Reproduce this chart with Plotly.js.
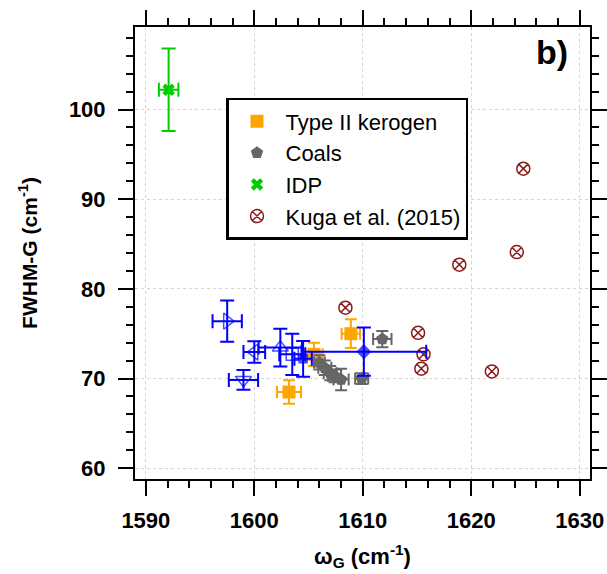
<!DOCTYPE html>
<html>
<head>
<meta charset="utf-8">
<script src="https://cdn.plot.ly/plotly-3.0.1.min.js"></script>
<style>html,body{margin:0;padding:0;background:#fff;}#chart{width:607px;height:574px;}</style>
</head>
<body>
<div id="chart"></div>
<script>
// ---- data ----
const keroX  = [1608.9, 1603.2, 1605.5];
const keroY  = [75.0, 68.5, 72.7];
const keroEX = [0.85, 1.1, 0.8];
const keroEY = [1.6, 1.3, 1.3];

const coalX  = [1611.8, 1609.9, 1608.0, 1607.0, 1606.5, 1606.0, 1607.4];
const coalY  = [74.4, 70.0, 69.9, 70.6, 71.2, 71.8, 70.3];
const coalEX = [0.85, 0.6, 0.7, 0.6, 0.6, 0.5, 0.6];
const coalEY = [0.9, 0.6, 1.2, 0.8, 0.8, 0.8, 0.7];

const idpX  = [1592.1];
const idpY  = [102.2];
const idpEX = [0.9];
const idpEY = [4.6];

const kugaX = [1608.4, 1615.1, 1615.6, 1615.4, 1618.9, 1621.9, 1624.2, 1624.8];
const kugaY = [77.9, 75.1, 72.7, 71.1, 82.7, 70.8, 84.1, 93.4];

const blueX  = [1597.5, 1600.0, 1599.0, 1602.4, 1603.5, 1604.5, 1610.1];
const blueY  = [76.4, 72.95, 69.85, 73.45, 72.7, 72.2, 73.0];
const blueEX = [1.35, 1.0, 1.35, 2.0, 1.2, 0.8, 5.75];
const blueEY = [2.3, 1.2, 1.1, 2.1, 2.3, 2.0, 2.7];

const seriesNames = ['Type II kerogen', 'Coals', 'IDP', 'Kuga et al. (2015)'];
const xTitle = 'ω<sub>G</sub> (cm<sup>-1</sup>)';
const yTitle = 'FWHM-G (cm<sup>-1</sup>)';
const panelLabel = 'b)';

// ---- styles ----
const blueSymbols = ['triangle-right-open','triangle-left-open','triangle-down-open','triangle-up-open','square-open','square','diamond'];
const blueSizes = [14, 14, 14, 14, 12, 8, 10];
const FONT = 'Arial, "Liberation Sans", sans-serif';

function errs(arr, color, w) {
  return {type: 'data', array: arr, visible: true, color: color, thickness: 2, width: w};
}

const traces = [
  {
    x: keroX, y: keroY, name: seriesNames[0], mode: 'markers', type: 'scatter',
    marker: {symbol: 'square', size: 13, color: '#FFA500'},
    error_x: errs(keroEX, '#FFA500', 6), error_y: errs(keroEY, '#FFA500', 6)
  },
  {
    x: coalX, y: coalY, name: seriesNames[1], mode: 'markers', type: 'scatter',
    marker: {symbol: 'pentagon', size: 13, color: '#666666'},
    error_x: errs(coalEX, '#666666', 6), error_y: errs(coalEY, '#666666', 6)
  },
  {
    x: idpX, y: idpY, name: seriesNames[2], mode: 'markers', type: 'scatter',
    marker: {symbol: 'x', size: 11, color: '#00CC00'},
    error_x: errs(idpEX, '#00CC00', 7), error_y: errs(idpEY, '#00CC00', 7)
  },
  {
    x: kugaX, y: kugaY, name: seriesNames[3], mode: 'markers', type: 'scatter',
    marker: {symbol: 'circle-x-open', size: 13, color: '#8B1A1A', line: {width: 1.5}}
  },
  {
    x: blueX, y: blueY, name: 'blue', showlegend: false, mode: 'markers', type: 'scatter',
    marker: {symbol: blueSymbols, size: blueSizes, color: '#0000FF', line: {width: 1.5, color: '#0000FF'}},
    error_x: errs(blueEX, '#0000FF', 7), error_y: errs(blueEY, '#0000FF', 7)
  }
];

const axisCommon = {
  showline: true, linecolor: '#000', linewidth: 2, mirror: 'allticks',
  ticks: 'outside', ticklen: 15, tickwidth: 2, tickcolor: '#000',
  showgrid: true, gridcolor: '#d4d4d4', griddash: 'dot', gridwidth: 1,
  zeroline: false,
  tickfont: {family: FONT, size: 22, color: '#000', weight: 'bold'},
  minor: {dtick: 2, ticklen: 7, tickwidth: 2, tickcolor: '#000', ticks: 'outside', showgrid: false}
};

const layout = {
  width: 607, height: 574,
  margin: {l: 135, r: 17, t: 27, b: 95},
  paper_bgcolor: '#fff', plot_bgcolor: '#fff',
  font: {family: FONT, color: '#000'},
  xaxis: Object.assign({}, axisCommon, {
    range: [1589.0, 1630.95], tickvals: [1590, 1600, 1610, 1620, 1630], ticklabelstandoff: 6,
    title: {text: xTitle, font: {family: FONT, size: 22, weight: 'bold'}, standoff: 16}
  }),
  yaxis: Object.assign({}, axisCommon, {
    range: [58.8, 109.2], tickvals: [60, 70, 80, 90, 100], ticklabelstandoff: 8,
    title: {text: yTitle, font: {family: FONT, size: 21, weight: 'bold'}, standoff: 26}
  }),
  legend: {
    x: 0.2, y: 0.843, xanchor: 'left', yanchor: 'top',
    bgcolor: '#fff', bordercolor: '#000', borderwidth: 2.5,
    font: {family: FONT, size: 22, color: '#000'},
    itemwidth: 47, tracegroupgap: 0
  },
  annotations: [{
    text: panelLabel, xref: 'paper', yref: 'paper', x: 0.955, y: 0.945,
    xanchor: 'right', yanchor: 'middle', showarrow: false,
    font: {family: FONT, size: 34, weight: 'bold', color: '#000'}
  }],
  showlegend: true
};

Plotly.newPlot('chart', traces, layout, {displayModeBar: false, staticPlot: true});
</script>
</body>
</html>
